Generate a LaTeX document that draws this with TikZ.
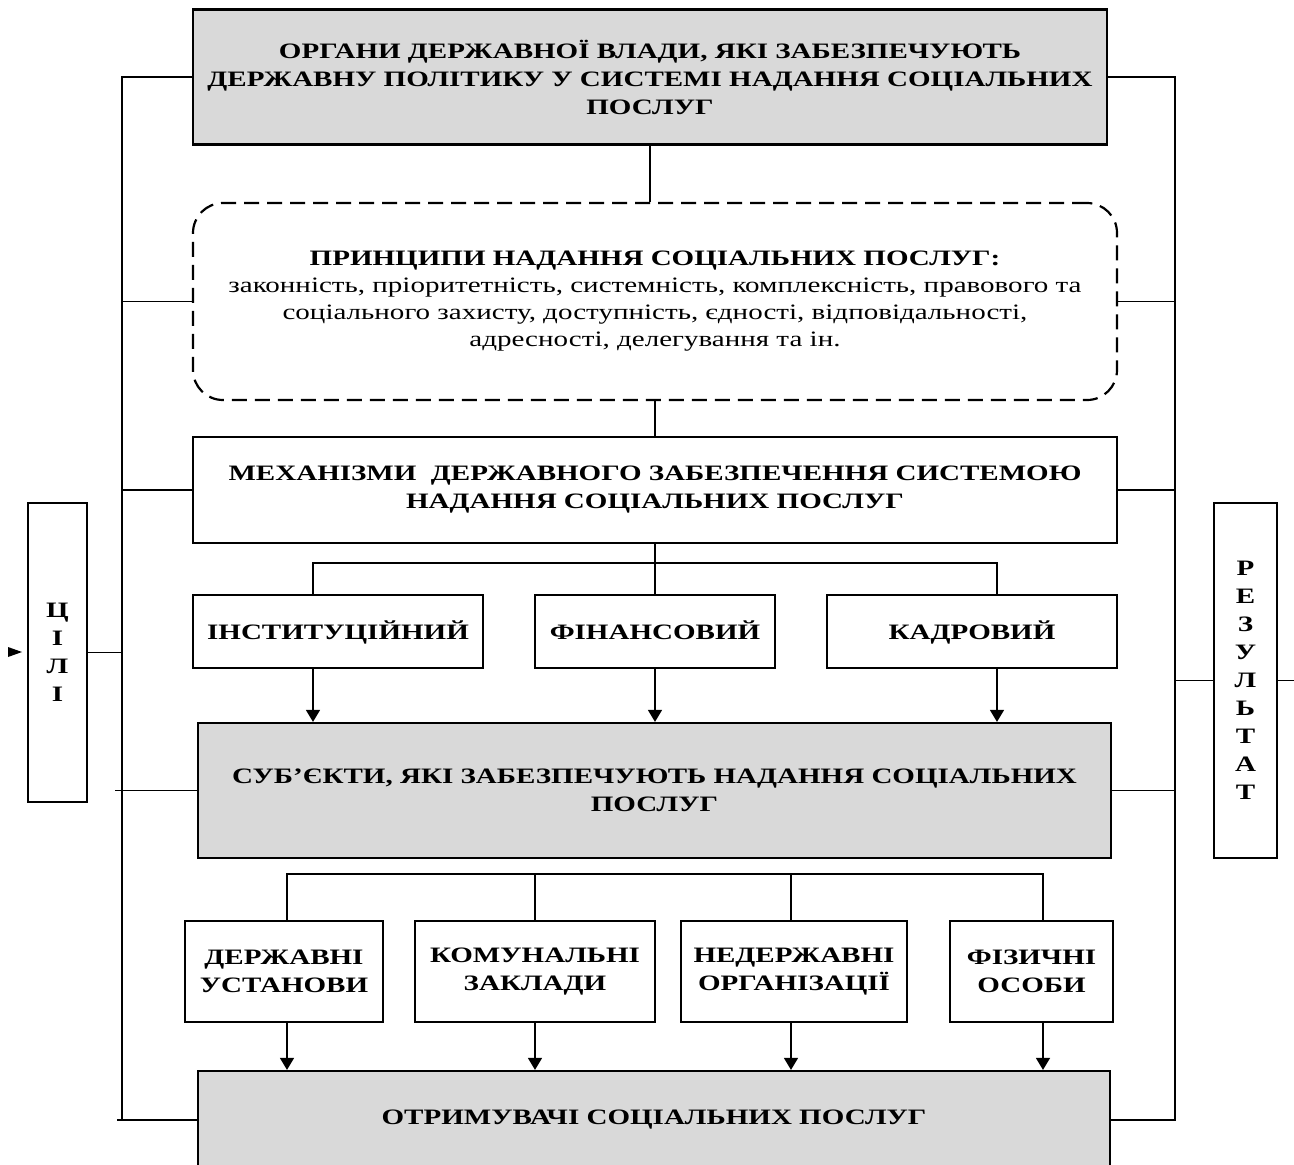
\documentclass[tikz,border=0pt]{standalone}
\usepackage{fontspec}
\setmainfont{Liberation Serif}[FakeStretch=1.32]
\usetikzlibrary{arrows.meta}
\definecolor{boxgrey}{RGB}{217,217,217}
\tikzset{
  blok/.style={draw, line width=2.2pt, align=center, inner sep=0pt,
    font=\bfseries\fontsize{22}{28}\selectfont},
  siryi/.style={blok, fill=boxgrey},
  riadok/.style={blok, text height=20pt, text depth=4pt},
  vertyk/.style={blok, font=\bfseries\fontsize{22}{28}\selectfont},
  zviazok/.style={line width=1.5pt},
  strilka/.style={zviazok, -{Triangle[width=14pt,length=12pt]}},
}

\begin{document}
\begin{tikzpicture}[x=1pt,y=-1pt]
    \useasboundingbox (0,0) rectangle (1294,1165);

    \node [siryi, minimum width=914pt, minimum height=135pt] (organy) at (650,77)
      {ОРГАНИ ДЕРЖАВНОЇ ВЛАДИ, ЯКІ ЗАБЕЗПЕЧУЮТЬ\\ДЕРЖАВНУ ПОЛІТИКУ У СИСТЕМІ НАДАННЯ СОЦІАЛЬНИХ\\ПОСЛУГ};
    \node [blok, dash pattern=on 15pt off 8pt, rounded corners=30pt, font=\fontsize{22}{27}\selectfont,
      minimum width=924pt, minimum height=197pt] (pryntsypy) at (655,301.5)
      {\textbf{ПРИНЦИПИ НАДАННЯ СОЦІАЛЬНИХ ПОСЛУГ:}\\законність, пріоритетність, системність, комплексність, правового та\\соціального захисту, доступність, єдності, відповідальності,\\адресності, делегування та ін.};
    \node [blok, minimum width=924pt, minimum height=106pt] (mekhanizmy) at (655,490)
      {МЕХАНІЗМИ\ \ ДЕРЖАВНОГО ЗАБЕЗПЕЧЕННЯ СИСТЕМОЮ\\НАДАННЯ СОЦІАЛЬНИХ ПОСЛУГ};

    \node [riadok, minimum width=290pt, minimum height=73pt] (instytutsiinyi) at (338,631.5) {ІНСТИТУЦІЙНИЙ};
    \node [riadok, minimum width=240pt, minimum height=73pt] (finansovyi) at (655,631.5) {ФІНАНСОВИЙ};
    \node [riadok, minimum width=290pt, minimum height=73pt] (kadrovyi) at (972,631.5) {КАДРОВИЙ};

    \node [siryi, minimum width=913pt, minimum height=135pt] (subiekty) at (654.5,790.5)
      {СУБ’ЄКТИ, ЯКІ ЗАБЕЗПЕЧУЮТЬ НАДАННЯ СОЦІАЛЬНИХ\\ПОСЛУГ};

    \node [blok, minimum width=198pt, minimum height=101pt] (derzhavni) at (284,971.5) {ДЕРЖАВНІ\\УСТАНОВИ};
    \node [blok, minimum width=240pt, minimum height=101pt] (komunalni) at (535,971.5) {КОМУНАЛЬНІ\\ЗАКЛАДИ};
    \node [blok, minimum width=226pt, minimum height=101pt] (nederzhavni) at (794,971.5) {НЕДЕРЖАВНІ\\ОРГАНІЗАЦІЇ};
    \node [blok, minimum width=163pt, minimum height=101pt] (fizychni) at (1031.5,971.5) {ФІЗИЧНІ\\ОСОБИ};

    \node [siryi, minimum width=912pt, minimum height=98pt] (otrymuvachi) at (654,1120)
      {ОТРИМУВАЧІ СОЦІАЛЬНИХ ПОСЛУГ};

    \node [vertyk, minimum width=59pt, minimum height=299pt] (tsili) at (57.5,652.5) {Ц\\І\\Л\\І};
    \node [vertyk, minimum width=63pt, minimum height=355pt] (rezultat) at (1245.5,680.5)
      {Р\\Е\\З\\У\\Л\\Ь\\Т\\А\\Т};

    \coordinate (livo) at (122,0);
    \coordinate (pravo) at (1175,0);
    \coordinate (kraj) at (1294,680.5);

    \draw [zviazok] (organy.south) -- (organy.south |- pryntsypy.north);
    \draw [zviazok] (pryntsypy.south) -- (mekhanizmy.north);
    \draw [zviazok] (mekhanizmy.south) -- ++(0,19) coordinate (shyna);
    \draw [zviazok] ([xshift=-25pt]instytutsiinyi.north) |- (shyna) -| ([xshift=25pt]kadrovyi.north);
    \draw [zviazok] (shyna) -- (finansovyi.north);
    \foreach \n/\dx in {instytutsiinyi/-25, finansovyi/0, kadrovyi/25}
      \draw [strilka] ([xshift=\dx pt]\n.south) -- ([xshift=\dx pt]\n.south |- subiekty.north);

    \draw [zviazok] ([xshift=3pt]derzhavni.north) -- ++(0,-46) -| ([xshift=11.5pt]fizychni.north);
    \draw [zviazok] (komunalni.north) -- ++(0,-46);
    \draw [zviazok] ([xshift=-3pt]nederzhavni.north) -- ++(0,-46);
    \foreach \n/\dx in {derzhavni/3, komunalni/0, nederzhavni/-3, fizychni/11.5}
      \draw [strilka] ([xshift=\dx pt]\n.south) -- ([xshift=\dx pt]\n.south |- otrymuvachi.north);

    \draw [zviazok] (organy.west) -| (livo |- otrymuvachi.west) -- (otrymuvachi.west);
    \draw [zviazok] (organy.east) -| (pravo |- otrymuvachi.east) -- (otrymuvachi.east);
    \foreach \n in {pryntsypy, mekhanizmy} {
      \draw [zviazok] (\n.west) -- (\n.west -| livo);
      \draw [zviazok] (\n.east) -- (\n.east -| pravo);
    }
    \draw [zviazok] (subiekty.west) -- ([xshift=-7pt]subiekty.west -| livo);
    \draw [zviazok] (subiekty.east) -- (subiekty.east -| pravo);
    \draw [zviazok] ([xshift=-5pt]otrymuvachi.west -| livo) -- (livo |- otrymuvachi.west);
    \draw [zviazok] (tsili.east) -- (tsili.east -| livo);
    \draw [zviazok] (rezultat.west) -- (rezultat.west -| pravo);
    \draw [zviazok] (rezultat.east) -- (kraj);

    \fill (8,647) -- (22,652) -- (8,657) -- cycle;

  \end{tikzpicture}
\end{document}
